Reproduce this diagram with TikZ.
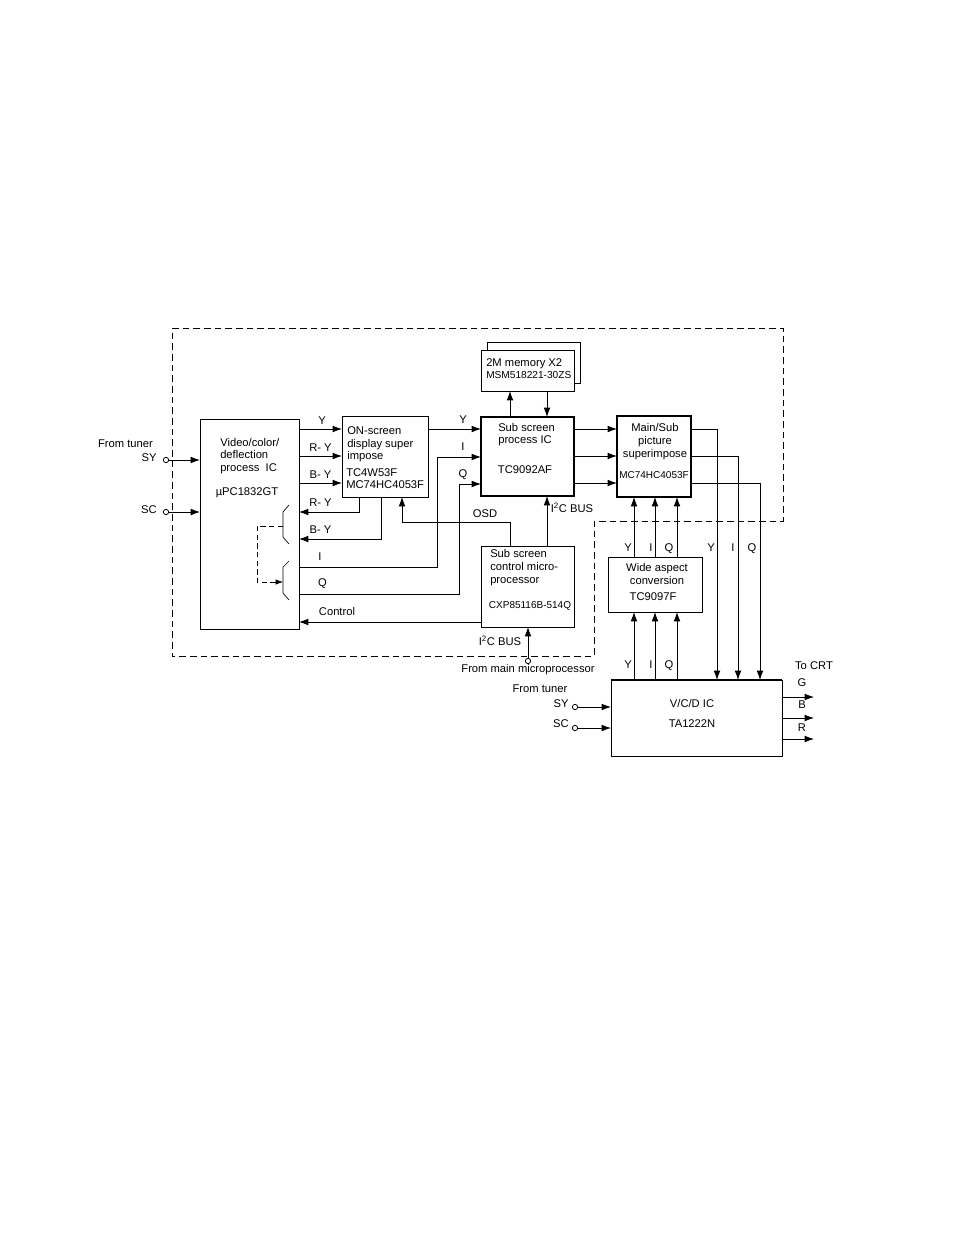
\documentclass[tikz,border=0pt]{standalone}
\usepackage{fontspec}
\setmainfont{Liberation Sans}
\usetikzlibrary{arrows.meta,calc}
\tikzstyle{block}=[draw,line width=.6pt,fill=white,inner sep=0pt,outer sep=0pt]
\tikzstyle{heavy}=[block,line width=1.4pt]
\tikzstyle{txt}=[inner sep=0pt,font=\fontsize{8.4}{9.5}\selectfont]
\tikzstyle{txtleft}=[txt,anchor=west,align=left]
\tikzstyle{txtmid}=[txt,align=center]
\tikzstyle{narrow}=[inner sep=0pt,font=\fontsize{7.5}{9.5}\selectfont]
\tikzstyle{wire}=[draw,line width=.6pt]
\tikzstyle{sig}=[wire,-{Latex[length=7pt,width=5pt]}]
\tikzstyle{pin}=[circle,draw,line width=.6pt,fill=white,minimum size=4pt,inner sep=0pt]
\tikzstyle{border}=[draw,line width=.7pt,dash pattern=on 5pt off 3pt]

\begin{document}
\begin{tikzpicture}[x=0.75pt,y=-0.75pt]
    \useasboundingbox (0,0) rectangle (954,1235);
    % cadre
    \draw[border] (172,328) -- (783,328) -- (783,521) -- (594,521) -- (594,656) -- (172,656) -- cycle;
    % blocs
    \foreach \pos/\boxw/\boxh/\name in {{(249.5,524)/99/210/video}, {(385,456.5)/86/81/osd}, {(533.5,362.5)/93/41/memback}, {(527.5,370.5)/93/41/mem}, {(527.5,586.5)/93/81/ctrl}, {(655,584.5)/94/55/wide}, {(696.5,718)/171/76/vcd}}
        \node[block,minimum width=\boxw*0.75pt,minimum height=\boxh*0.75pt] (\name) at \pos {};
    \foreach \pos/\boxw/\boxh/\name in {{(527.5,456.5)/93/79/sub}, {(654,456.5)/74/81/main}}
        \node[heavy,minimum width=\boxw*0.75pt,minimum height=\boxh*0.75pt] (\name) at \pos {};
    % textes des blocs
    \node[txtleft] (videoname) at (220,456) {Video/color/\\deflection\\process\ \ IC};
    \node[txt] (videoic) at (247,493) {µPC1832GT};
    \node[txtleft] (osdname) at (347,444.5) {ON-screen\\display super\\impose};
    \node[txtleft] (osdic) at (346,478.5) {TC4W53F\\MC74HC4053F};
    \node[txtleft] (memname) at (486,369) {2M memory X2\\[-.5pt]\fontsize{7.6}{9.5}\selectfont MSM518221-30ZS};
    \node[txtleft] (subname) at (498,434.5) {Sub screen\\process IC};
    \node[txt] (subic) at (525,470) {TC9092AF};
    \node[txtmid] (mainname) at (655,441.5) {Main/Sub\\picture\\superimpose};
    \node[narrow] (mainic) at (654,475.5) {MC74HC4053F};
    \node[txtleft] (ctrlname) at (490,567.5) {Sub screen\\control micro-\\processor};
    \node[narrow] (ctrlic) at (530,605.5) {CXP85116B-514Q};
    \node[txtmid] (widename) at (657,574) {Wide aspect\\conversion};
    \node[txt] (wideic) at (653,597) {TC9097F};
    \node[txt] (vcdname) at (692,703) {V/C/D IC};
    \node[txt] (vcdic) at (692,724) {TA1222N};
    % bornes
    \foreach \pos/\name in {{(166,460)/sya}, {(166,512)/sca}, {(528,661)/bus}, {(575,707)/syb}, {(575,728)/scb}}
        \node[pin] (\name) at \pos {};
    % liaisons
    \foreach \y in {429,456,483}{
        \path[sig] (video.east |- 0,\y) -- (osd.west |- 0,\y);
        \path[sig] (sub.east |- 0,\y) -- (main.west |- 0,\y);
    }
    \foreach \name in {sya,sca}
        \path[sig] (\name) -- (video.west |- \name);
    \foreach \name in {syb,scb}
        \path[sig] (\name) -- (vcd.west |- \name);
    \path[sig] (osd.south -| 359,0) |- (video.east |- 0,512);
    \path[sig] (osd.south -| 381,0) |- (video.east |- 0,539);
    \path[sig] (osd.east |- 0,429) -- (sub.west |- 0,429);
    \path[sig] (video.east |- 0,567) -| (437,457) -- (sub.west |- 0,457);
    \path[sig] (video.east |- 0,594) -| (459,484) -- (sub.west |- 0,484);
    \path[sig] (ctrl.north -| 510,0) |- (402,522) -- (osd.south -| 402,0);
    \path[sig] (ctrl.north -| 547,0) -- (sub.south -| 547,0);
    \path[sig] (sub.north -| 510,0) -- (mem.south -| 510,0);
    \path[sig] (mem.south -| 547,0) -- (sub.north -| 547,0);
    \path[sig] (bus) -- (ctrl.south -| bus);
    \path[sig] (ctrl.west |- 0,622) -- (video.east |- 0,622);
    \foreach \x in {634,655,677}{
        \path[sig] (wide.north -| \x,0) -- (main.south -| \x,0);
        \path[sig] (vcd.north -| \x,0) -- (wide.south -| \x,0);
    }
    \path[sig] (main.east |- 0,429) -| (vcd.north -| 717,0);
    \path[sig] (main.east |- 0,456) -| (vcd.north -| 738,0);
    \path[sig] (main.east |- 0,483) -| (vcd.north -| 760,0);
    \draw[line width=1.4pt] (vcd.north west) -- (vcd.north east);
    \foreach \y/\name in {697/outg,718/outb,739/outr}{
        \coordinate (\name) at (814,\y);
        \path[sig] (vcd.east |- \name) -- (\name);
    }
    % commutateurs
    \draw[line width=.5pt] (289,505) -- (283,512) -- (283,537) -- (289,544);
    \draw[line width=.5pt] (289,561) -- (283,567) -- (283,593) -- (289,600);
    \coordinate (swa) at (283,526);
    \coordinate (swb) at (283,582);
    \draw[line width=.5pt,dash pattern=on 4pt off 2.5pt,-{Latex[length=5.5pt,width=4pt]}] (swa) -- (257,526) -- (257,582) -- (swb);
    % etiquettes
    \foreach \pos/\txt [count=\i] in {{(125.5,444)/From tuner}, {(149,458)/SY}, {(149,510)/SC}, {(322,421)/Y}, {(320.5,448)/R- Y}, {(320.5,475)/B- Y}, {(320.5,503)/R- Y}, {(320.5,530)/B- Y}, {(320,557)/I}, {(322.5,584)/Q}, {(337,611)/Control}, {(463,420)/Y}, {(463,447)/I}, {(463,475)/Q}, {(485,514)/OSD}, {(572,508)/I\textsuperscript{2}C BUS}, {(500,641)/I\textsuperscript{2}C BUS}, {(528,670)/From main microprocessor}, {(628,548)/Y}, {(651,548)/I}, {(669,549)/Q}, {(711,548)/Y}, {(733,548)/I}, {(752,549)/Q}, {(628,665)/Y}, {(651,665)/I}, {(669,666)/Q}, {(814,666)/To CRT}, {(802,683)/G}, {(802,705)/B}, {(802,728)/R}, {(540,689)/From tuner}, {(561,704)/SY}, {(561,724)/SC}}
        \node[txt] (lab\i) at \pos {\txt};
\end{tikzpicture}
\end{document}
